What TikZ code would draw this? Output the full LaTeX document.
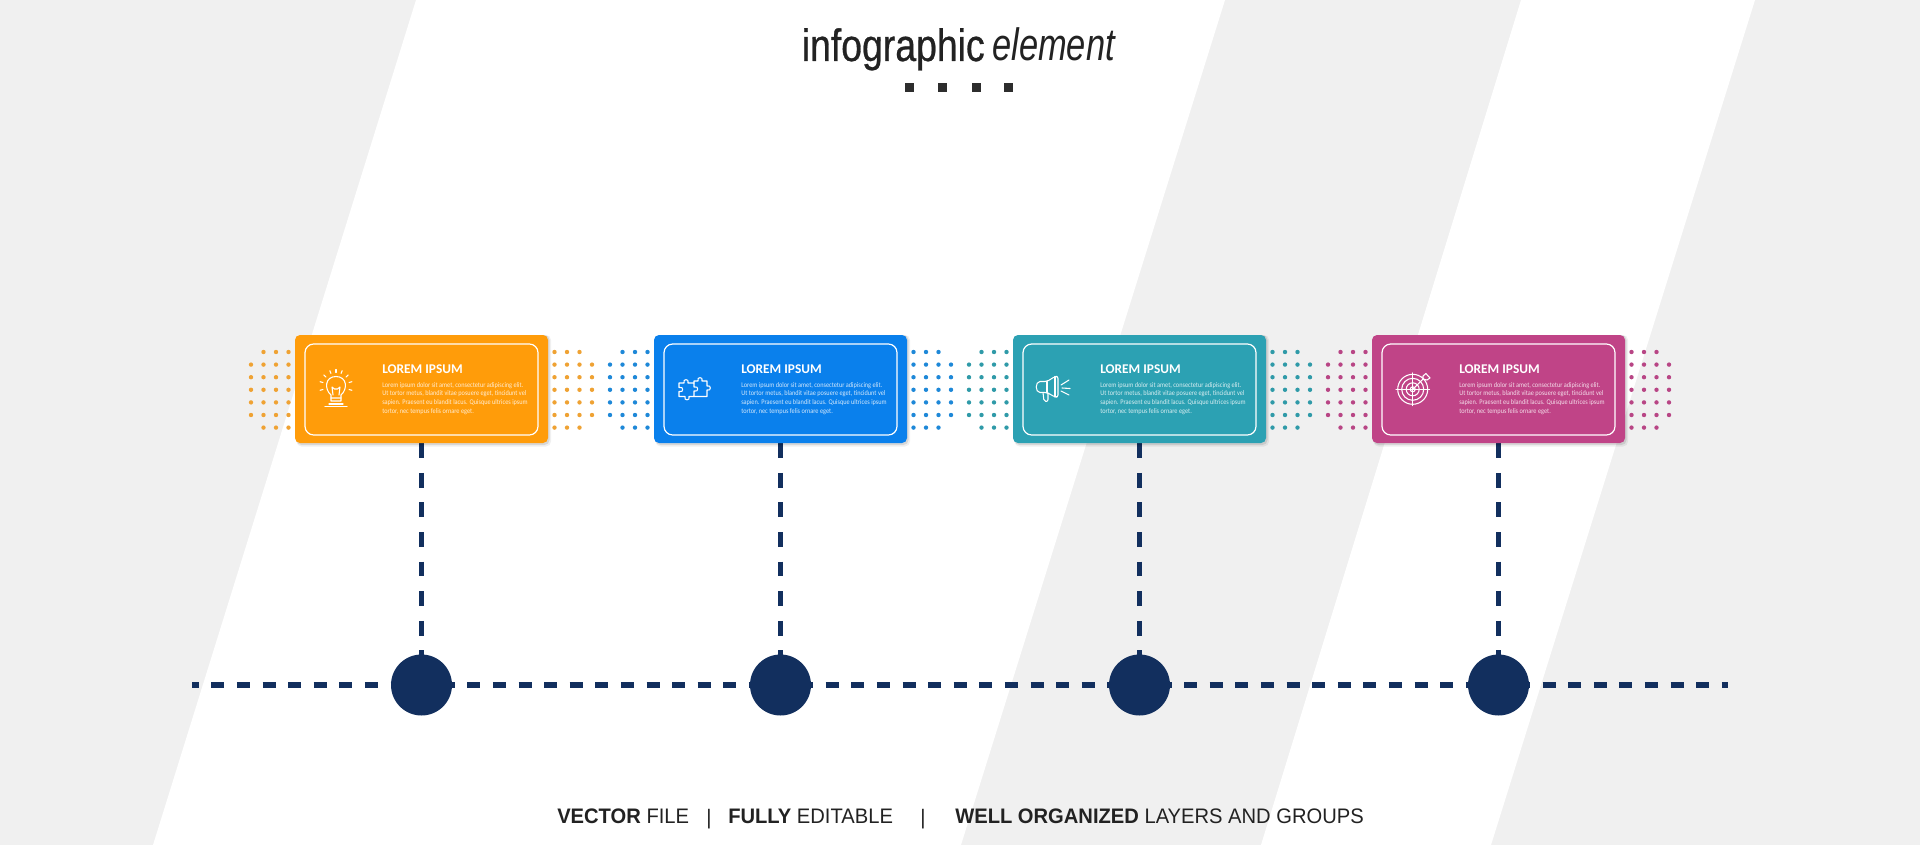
\documentclass[tikz,border=0pt]{standalone}
\usepackage{fontspec}
\usetikzlibrary{backgrounds}
\setmainfont{Carlito}
\newfontfamily\bodyfont[FakeStretch=0.88]{Carlito}
\newfontfamily\titlefont[FakeStretch=0.825,FakeBold=0.6]{Liberation Sans}
\newfontfamily\titlefontb[FakeStretch=0.76]{Liberation Sans}
\newfontfamily\capfont[FakeStretch=0.96]{Liberation Sans}
\definecolor{bggray}{HTML}{F0F0F0}
\definecolor{navy}{HTML}{122F5E}
\definecolor{inkc}{HTML}{222222}
\definecolor{cOne}{HTML}{FF9C0A}
\definecolor{cTwo}{HTML}{0A80EC}
\definecolor{cThree}{HTML}{2CA1B3}
\definecolor{cFour}{HTML}{C04487}
\definecolor{dOne}{HTML}{EFA233}
\definecolor{dTwo}{HTML}{1E88D8}
\definecolor{dThree}{HTML}{2F9AA8}
\definecolor{dFour}{HTML}{B84585}
\tikzset{
  x=0.75pt,y=-0.75pt,
  card/.style={fill=#1,rounded corners=3.75pt,minimum width=189.75pt,minimum height=81pt,inner sep=0pt},
  frame/.style={draw=white,line width=0.9pt,rounded corners=6.5pt,minimum width=174.75pt,minimum height=68.25pt,inner sep=0pt},
  pin/.style={circle,fill=navy,minimum size=45.75pt,inner sep=0pt},
  vdash/.style={draw=navy,line width=4.2pt,dash pattern=on 11.1pt off 11.1pt},
  hdash/.style={draw=navy,line width=4.2pt,dash pattern=on 9.75pt off 9.45pt,dash phase=4.7pt},
  headtxt/.style={anchor=base west,inner sep=0pt,text=white,font=\fontsize{10pt}{12pt}\selectfont\bfseries},
  bodytxt/.style={anchor=north west,inner sep=0pt,align=left,text=white,text opacity=0.82,font=\bodyfont\fontsize{5.35pt}{6.5pt}\selectfont},
  icon/.style={draw=white,line width=0.8pt,line cap=round,line join=round},
  capt/.style={anchor=base west,inner sep=0pt,text=inkc,font=\capfont\fontsize{15.75pt}{18pt}\selectfont},
  ttl/.style={anchor=base west,inner sep=0pt,text=inkc,font=\titlefont\fontsize{34pt}{40pt}\selectfont},
  ttlb/.style={anchor=base west,inner sep=0pt,text=inkc,font=\titlefontb\fontsize{34pt}{40pt}\selectfont\itshape},
  sq/.style={fill=inkc!95,minimum size=6.75pt,inner sep=0pt},
}
\begin{document}
\begin{tikzpicture}
\useasboundingbox (0,0) rectangle (1920,845);
% dots
\foreach \cx/\dc in {421.5/dOne,780.5/dTwo,1139.5/dThree,1498.5/dFour}{
  \foreach \dx in {-170.5,-158,-145.5,-133,133,145.5,158,170.5}{
    \foreach \yy in {352,364.6,377.2,389.8,402.4,415,427.6}{
      \pgfmathparse{(abs(\dx)>170 && (\yy<353 || \yy>427)) ? 0 : 1}
      \ifnum\pgfmathresult>0
        \pgfmathsetmacro\xx{\cx+\dx}
        \fill[\dc] (\xx,\yy) circle (2.2);
      \fi
    }
  }
}
% shadows
\foreach \cx in {421.5,780.5,1139.5,1498.5}{
  \pgfmathsetmacro\xa{\cx-125}
  \pgfmathsetmacro\xb{\cx+129.5}
  \pgfmathsetmacro\xc{\cx+128}
  \fill[black,opacity=.06,rounded corners=3.75pt] (\xa,335) rectangle (\xb,446.5);
  \fill[black,opacity=.10,rounded corners=3.75pt] (\xa,335) rectangle (\xc,445);
}
% cards
\foreach \i/\cx/\cc in {1/421.5/cOne,2/780.5/cTwo,3/1139.5/cThree,4/1498.5/cFour}{
  \node[card=\cc] (card\i) at (\cx,389) {};
  \node[frame] (frame\i) at (\cx,389.5) {};
  \pgfmathsetmacro\tx{\cx-39.5}
  \node[headtxt] (head\i) at (\tx,373) {LOREM IPSUM};
  \node[bodytxt] (body\i) at (\tx,382) {Lorem ipsum dolor sit amet, consectetur adipiscing elit.\\Ut tortor metus, blandit vitae posuere eget, tincidunt vel\\sapien. Praesent eu blandit lacus. Quisque ultrices ipsum\\tortor, nec tempus felis ornare eget.};
  \node[pin] (pin\i) at (\cx,685) {};
}
% bulb icon
\draw[icon] (331,395) .. controls (324,389) and (325,376.5) .. (336,376.5) .. controls (347,376.5) and (348,389) .. (341,395) -- (341,401) -- (331,401) -- cycle;
\draw[icon] (331,398) -- (341,398) (333,395) -- (332,387) -- (334.5,389) -- (337.5,389) -- (340,387) -- (339,395);
\draw[icon] (329,404) -- (343,404) (325,406.5) -- (347,406.5);
\foreach \a in {-15,15,42,68,90,112,138,165,195}{
  \draw[icon] ({336+13.5*cos(\a)},{386-13.5*sin(\a)}) -- ({336+16.5*cos(\a)},{386-16.5*sin(\a)});
}
% puzzle icon
\draw[icon] (679,383) -- (684,383) .. controls (682,378.5) and (690,378.5) .. (688,383) -- (694,383) -- (694,387) .. controls (699,385) and (699,393) .. (694,391) -- (694,396.5) -- (689,396.5) .. controls (691,401) and (683,401) .. (685,396.5) -- (679,396.5) -- (679,391.5) .. controls (684,393.5) and (684,385.5) .. (679,387.5) -- cycle;
\draw[icon] (694,383) -- (694,381) -- (698,381) .. controls (696,376.5) and (704,376.5) .. (702,381) -- (707,381) -- (707,386) .. controls (711.5,384) and (711.5,392) .. (707,390) -- (707,396.5) -- (694,396.5);
% megaphone icon
\draw[icon,rounded corners=1.5pt] (1058,376.5) -- (1058,397) -- (1055,397) -- (1047,392.5) -- (1042,392.5) .. controls (1035,392.5) and (1035,381.5) .. (1042,381.5) -- (1047,381.5) -- (1055,376.5) -- cycle;
\draw[icon] (1047,381.5) -- (1047,392.5) (1055,376.5) -- (1055,397);
\draw[icon,rounded corners=1.5pt] (1043,392.5) -- (1044,401.5) -- (1048,401.5) -- (1048,393);
\draw[icon] (1061,385) -- (1069,380) (1062,388) -- (1070,388.5) (1061,391) -- (1069,395);
% target icon
\foreach \r in {15,11,6.5,2.5}{\draw[icon] (1412.7,389.3) circle (\r);}
\draw[icon] (1396,389.3) -- (1429.5,389.3) (1412.7,373) -- (1412.7,405.5);
\draw[icon] (1412.7,389.3) -- (1423,379) (1423,379) -- (1423,376) -- (1426,373.5) -- (1428,376) -- (1430,378) -- (1427,380) -- (1423,379);
% title and captions
\node[ttl] (title) at (801.5,61) {infographic};
\node[ttlb] (titleb) at (992,61) {element};
\foreach \i/\xx in {1/909,2/942,3/976,4/1008}{\node[sq] (sq\i) at (\xx,88) {};}
\node[capt] (c1) at (557,823) {\bfseries VECTOR\mdseries{} FILE};
\node[capt] (c2) at (728,823) {\bfseries FULLY\mdseries{} EDITABLE};
\node[capt] (c3) at (955,823) {\bfseries WELL ORGANIZED\mdseries{} LAYERS AND GROUPS};
\node[capt] (bar1) at (706,824) {|};
\node[capt] (bar2) at (920,824) {|};
% background
\begin{scope}[on background layer]
\fill[bggray] (0,0) rectangle (1920,845);
\fill[white] (416,0) -- (1225,0) -- (961,845) -- (153,845) -- cycle;
\fill[white] (1521,0) -- (1755,0) -- (1491,845) -- (1261,845) -- cycle;
\coordinate (hs) at (192,685);
\coordinate (he) at (1728,685);
\draw[hdash] (hs) -- (he);
\foreach \i in {1,2,3,4}{\draw[vdash] (card\i.south) -- (pin\i.center);}
\end{scope}
\end{tikzpicture}
\end{document}
